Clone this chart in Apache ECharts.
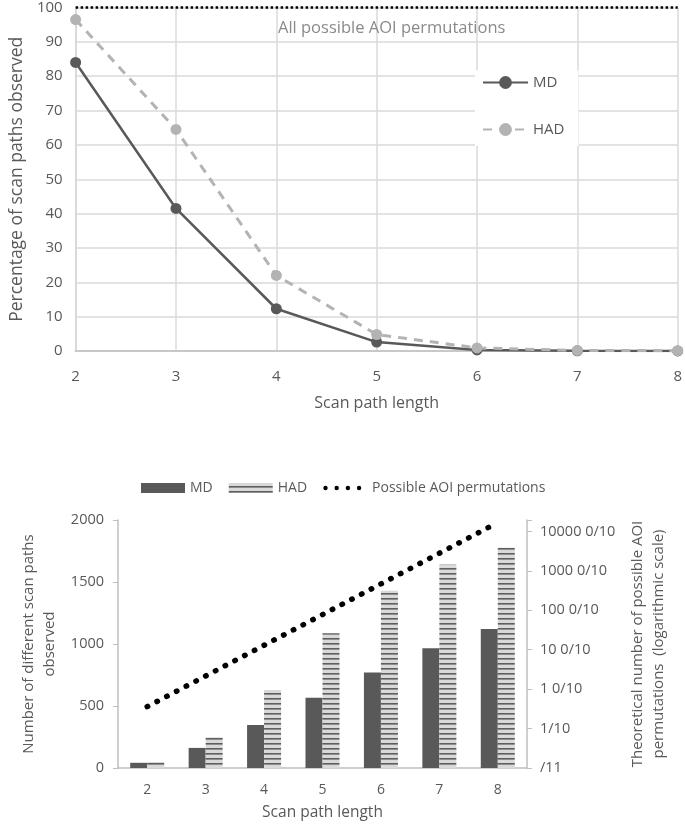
<!DOCTYPE html>
<html>
<head>
<meta charset="utf-8">
<script src="https://cdn.jsdelivr.net/npm/echarts@6/dist/echarts.min.js"></script>
<style>
html,body{margin:0;padding:0;background:#fff;}
#chart{width:685px;height:831px;}
</style>
</head>
<body>
<div id="chart"></div>
<script>
// ---- Top chart data ----
const pathLengths = [2, 3, 4, 5, 6, 7, 8];
const pctMD  = [84, 41.5, 12.3, 2.6, 0.3, 0.05, 0.02];
const pctHAD = [96.5, 64.5, 22, 4.8, 0.9, 0.15, 0.1];
const allPermutationsPct = 100;

// ---- Bottom chart data ----
const categories = ['2', '3', '4', '5', '6', '7', '8'];
const countMD  = [42, 162, 347, 567, 771, 965, 1120];
const countHAD = [48, 247, 629, 1086, 1430, 1642, 1776];
const possiblePermutations = [36, 216, 1296, 7776, 46656, 279936, 1679616];
const leftTicks = {min: 0, max: 2000, interval: 500};
const rightTickLabels = ['/11', '1/10', '1 0/10', '10 0/10', '100 0/10', '1000 0/10', '10000 0/10'];
const rightAxisMax = 1950000;

const FONT = '"Open Sans", sans-serif';
const TXT = '#595959';

// striped pattern for HAD bars
function stripePattern() {
  const c = document.createElement('canvas');
  c.width = 6; c.height = 5;
  const g = c.getContext('2d');
  g.fillStyle = '#d9d9d9';
  g.fillRect(0, 0, 6, 5);
  g.fillStyle = '#5e5e5e';
  g.fillRect(0, 3, 6, 1.6);
  return {image: c, repeat: 'repeat'};
}
const hadPattern = stripePattern();

// four-dot legend icon (44 x 10 box)
function dot(cx, cy, r) {
  return 'M' + (cx - r) + ' ' + cy + ' a' + r + ' ' + r + ' 0 1 0 ' + (2 * r) + ' 0 a' + r + ' ' + r + ' 0 1 0 ' + (-2 * r) + ' 0 Z ';
}
const dotsIcon = 'path://M0 0 M44 10 ' + dot(2.4, 5, 2.2) + dot(13.6, 5, 2.2) + dot(24.8, 5, 2.2) + dot(36, 5, 2.2);

const chart = echarts.init(document.getElementById('chart'), null, {renderer: 'canvas'});

const option = {
  backgroundColor: '#fff',
  textStyle: {fontFamily: FONT},
  animation: false,
  legend: [
    {
      data: ['MD', 'HAD'],
      orient: 'vertical',
      left: 475, top: 70,
      padding: [5, 14, 9, 7],
      itemWidth: 45, itemHeight: 16, itemGap: 32,
      backgroundColor: '#ffffff',
      textStyle: {fontSize: 15, color: TXT, fontFamily: FONT}
    },
    {
      data: [
        {name: 'MD bars', icon: 'rect'},
        {name: 'HAD bars', icon: 'rect'},
        {name: 'Possible AOI permutations', icon: dotsIcon}
      ],
      formatter: n => n.replace(' bars', ''),
      orient: 'horizontal',
      left: 136, top: 476,
      itemWidth: 44, itemHeight: 10, itemGap: 16,
      textStyle: {fontSize: 14, color: TXT, fontFamily: FONT}
    }
  ],
  grid: [
    {left: 63, right: 6, top: 7, height: 344},
    {left: 118, right: 158, top: 520, height: 248}
  ],
  xAxis: [
    {
      gridIndex: 0, type: 'value', min: 2, max: 8, interval: 1,
      axisLine: {show: true, lineStyle: {color: '#c8c8c8', width: 2}},
      axisTick: {show: false},
      splitLine: {show: true, lineStyle: {color: '#dadada', width: 1.5}},
      axisLabel: {fontSize: 15, color: TXT, margin: 18, fontFamily: FONT},
      name: 'Scan path length', nameLocation: 'middle', nameGap: 44,
      nameTextStyle: {fontSize: 16, color: TXT, fontFamily: FONT}
    },
    {
      gridIndex: 1, type: 'category', data: categories,
      axisLine: {show: true, lineStyle: {color: '#bfbfbf', width: 1.5}},
      axisTick: {show: false},
      axisLabel: {fontSize: 14, color: TXT, margin: 15, fontFamily: FONT},
      name: 'Scan path length', nameLocation: 'middle', nameGap: 37,
      nameTextStyle: {fontSize: 15.5, color: TXT, fontFamily: FONT}
    }
  ],
  yAxis: [
    {
      gridIndex: 0, type: 'value', min: 0, max: 100, interval: 10,
      axisLine: {show: true, lineStyle: {color: '#d6d6d6', width: 1.5}},
      axisTick: {show: false},
      splitLine: {show: true, lineStyle: {color: '#dadada', width: 1.5}},
      axisLabel: {fontSize: 15, color: TXT, margin: 13, fontFamily: FONT},
      name: 'Percentage of scan paths observed', nameLocation: 'middle', nameGap: 42,
      nameTextStyle: {fontSize: 17.5, color: TXT, fontFamily: FONT}
    },
    {
      gridIndex: 1, type: 'value', position: 'left',
      min: leftTicks.min, max: leftTicks.max, interval: leftTicks.interval,
      axisLine: {show: true, lineStyle: {color: '#bfbfbf', width: 1.5}},
      axisTick: {show: true, length: 5, lineStyle: {color: '#bfbfbf'}},
      splitLine: {show: false},
      axisLabel: {fontSize: 14.5, color: TXT, margin: 14, fontFamily: FONT, formatter: v => String(v)},
      name: 'Number of different scan paths\nobserved', nameLocation: 'middle', nameGap: 48,
      nameTextStyle: {fontSize: 15, color: TXT, fontFamily: FONT, lineHeight: 21}
    },
    {
      gridIndex: 1, type: 'log', logBase: 10, position: 'right',
      min: 1, max: rightAxisMax,
      axisLine: {show: true, lineStyle: {color: '#bfbfbf', width: 1.5}},
      axisTick: {show: true, length: 5, lineStyle: {color: '#bfbfbf'}},
      splitLine: {show: false},
      axisLabel: {
        fontSize: 14.5, color: TXT, margin: 13, fontFamily: FONT,
        formatter: v => {
          const l = Math.log10(v);
          const i = Math.round(l);
          if (Math.abs(l - i) > 1e-6) return '';
          return rightTickLabels[i] !== undefined ? rightTickLabels[i] : '';
        }
      },
      name: 'Theoretical number of possible AOI\npermutations  (logarithmic scale)',
      nameLocation: 'middle', nameGap: 100, nameRotate: 90,
      nameTextStyle: {fontSize: 15, color: TXT, fontFamily: FONT, lineHeight: 21}
    }
  ],
  series: [
    {
      name: 'MD', type: 'line', xAxisIndex: 0, yAxisIndex: 0,
      data: pathLengths.map((x, i) => [x, pctMD[i]]),
      color: '#595959',
      lineStyle: {width: 2.5, color: '#595959'},
      symbol: 'circle', symbolSize: 11,
      itemStyle: {color: '#595959'},
      z: 3,
      markLine: {
        silent: true, symbol: 'none',
        lineStyle: {color: '#000', type: 'dotted', width: 2.5},
        label: {
          show: true, position: 'insideMiddleBottom', distance: 12,
          formatter: 'All possible AOI permutations',
          padding: [0, 0, 0, 30],
          fontSize: 16.5, color: '#8a8a8a', fontFamily: FONT
        },
        data: [{yAxis: allPermutationsPct}]
      }
    },
    {
      name: 'HAD', type: 'line', xAxisIndex: 0, yAxisIndex: 0,
      data: pathLengths.map((x, i) => [x, pctHAD[i]]),
      color: '#b3b3b3',
      lineStyle: {width: 3, color: '#b3b3b3', type: [9, 7]},
      symbol: 'circle', symbolSize: 11,
      itemStyle: {color: '#b3b3b3'},
      z: 4
    },
    {
      name: 'MD bars', type: 'bar', xAxisIndex: 1, yAxisIndex: 1,
      data: countMD, barWidth: 17, barGap: '0%',
      itemStyle: {color: '#595959'}
    },
    {
      name: 'HAD bars', type: 'bar', xAxisIndex: 1, yAxisIndex: 1,
      data: countHAD, barWidth: 17, barGap: '0%',
      itemStyle: {color: hadPattern}
    },
    {
      name: 'Possible AOI permutations', type: 'line', xAxisIndex: 1, yAxisIndex: 2,
      data: possiblePermutations,
      symbol: 'none',
      color: '#000',
      lineStyle: {color: '#000', width: 5.5, type: [0.5, 10.5], cap: 'round'},
      z: 5
    }
  ]
};
chart.setOption(option);
</script>
</body>
</html>
